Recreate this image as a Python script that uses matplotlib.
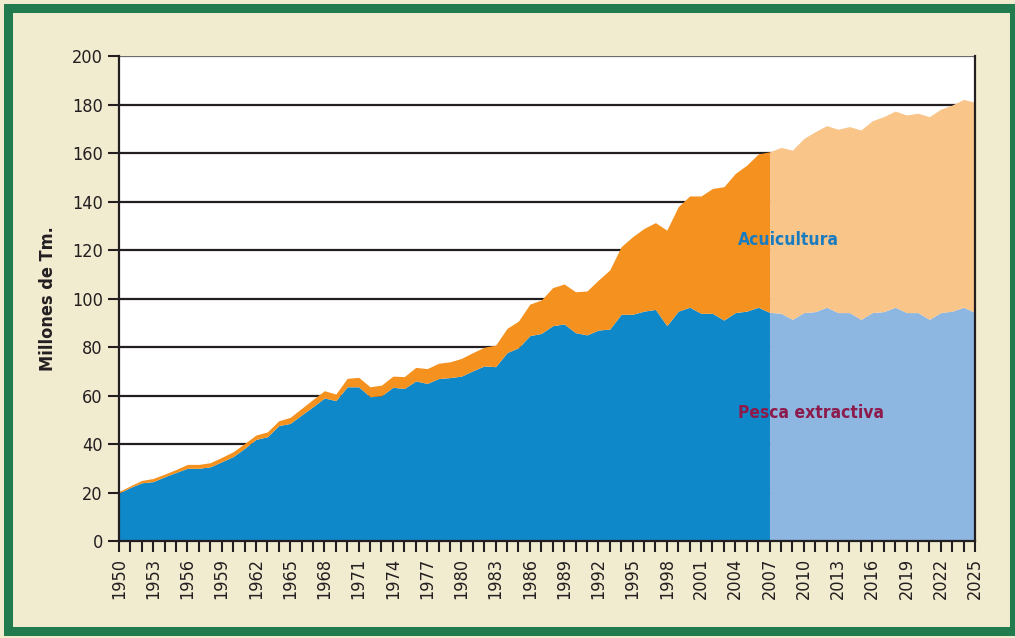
import matplotlib
matplotlib.use("Agg")
import matplotlib.pyplot as plt
import numpy as np
from matplotlib.patches import Rectangle

# Datos (millones de Tm.)
years = list(range(1950, 2026))

# pesca extractiva (1950-2025)
pesca = [19.8, 22.1, 24.0, 24.5, 26.5, 28.3, 30.0, 30.0, 30.6, 32.7,
         34.8, 38.2, 41.9, 43.0, 47.6, 48.5, 52.0, 55.4, 59.0, 57.9,
         63.6, 63.6, 59.5, 59.9, 63.4, 62.9, 66.0, 65.0, 67.0, 67.4,
         68.0, 70.2, 72.2, 71.9, 77.7, 79.7, 84.7, 85.6, 88.8, 89.5,
         85.9, 85.0, 87.0, 87.4, 93.5, 93.5, 94.8, 95.5, 88.8, 94.8,
         96.4, 93.9, 93.9, 91.1, 94.2, 94.8, 96.4, 94.3, 93.9, 91.4,
         94.2, 94.6, 96.4, 94.2, 94.2, 91.4, 94.2, 94.6, 96.4, 94.2,
         94.2, 91.4, 94.2, 94.8, 96.4, 94.2]

# produccion total = pesca + acuicultura
total = [20.4, 22.8, 25.0, 25.8, 27.6, 29.5, 31.6, 31.6, 32.3, 34.5,
         36.8, 40.2, 43.7, 45.0, 49.6, 51.0, 54.7, 58.4, 62.0, 60.6,
         67.1, 67.5, 63.6, 64.3, 68.0, 67.8, 71.6, 71.1, 73.3, 73.9,
         75.3, 77.7, 79.9, 80.8, 87.7, 90.7, 97.7, 99.4, 104.5, 106.0,
         102.8, 103.1, 107.6, 111.8, 121.4, 125.5, 128.9, 131.3, 128.2, 137.9,
         142.3, 142.3, 145.4, 146.1, 151.6, 155.0, 159.6, 160.5, 162.3, 161.2,
         166.0, 168.8, 171.3, 169.8, 170.9, 169.5, 173.3, 175.0, 177.3, 175.7,
         176.4, 175.0, 178.1, 179.8, 182.1, 180.9]

split_year = 2007
tick_labels = [str(y) if (y - 1950) % 3 == 0 else "" for y in years]
yticks = list(range(0, 201, 20))

# colores
bg = "#f1ebd0"
green = "#217b4f"
blue = "#0f88c9"
orange = "#f5921f"
blue_l = "#8db6e0"
orange_l = "#f9c589"
dark = "#231f20"

plt.rcParams['font.family'] = ['DejaVu Sans']
plt.rcParams['font.stretch'] = 'condensed'

fig = plt.figure(figsize=(10.15, 6.38), dpi=100, facecolor=bg)
ax = fig.add_axes([0.1172, 0.152, 0.8434, 0.7602])

x = np.array(years)
p = np.array(pesca)
t = np.array(total)
obs = x <= split_year
proj = x >= split_year

ax.fill_between(x[obs], 0, p[obs], color=blue, lw=0, zorder=3)
ax.fill_between(x[obs], p[obs], t[obs], color=orange, lw=0, zorder=3)
ax.fill_between(x[proj], 0, p[proj], color=blue_l, lw=0, zorder=3)
ax.fill_between(x[proj], p[proj], t[proj], color=orange_l, lw=0, zorder=3)

ax.set_xlim(1950, 2025)
ax.set_ylim(0, 200)
ax.set_yticks(yticks)
ax.set_xticks(years)
ax.set_xticklabels(tick_labels, rotation=90)

for yv in yticks[1:]:
    ax.axhline(yv, color=dark if yv < 200 else "#6d6a6a", lw=1.6, zorder=2)

ax.tick_params(axis='both', direction='out', length=8, width=1.5,
               color=dark, labelsize=13, labelcolor=dark)
ax.tick_params(axis='x', pad=4)

for side in ['left', 'bottom', 'right']:
    ax.spines[side].set_color(dark)
    ax.spines[side].set_linewidth(1.6)
    ax.spines[side].set_zorder(5)
ax.spines['top'].set_visible(False)

ax.set_ylabel("Millones de Tm.", fontsize=13, fontweight='bold', color=dark, labelpad=11)

ax.text(2004.2, 124, "Acuicultura", fontsize=12.5, fontweight='bold',
        color="#1a7cc0", va='center', ha='left', zorder=6)
ax.text(2004.2, 52.8, "Pesca extractiva", fontsize=12.5, fontweight='bold',
        color="#8c1a4b", va='center', ha='left', zorder=6)

# marco verde
fig.patches.append(Rectangle((0.0074, 0.0102), 0.9921, 0.978, transform=fig.transFigure,
                             fill=False, edgecolor=green, lw=6.5))

fig.savefig("out.png", dpi=100, facecolor=bg)
